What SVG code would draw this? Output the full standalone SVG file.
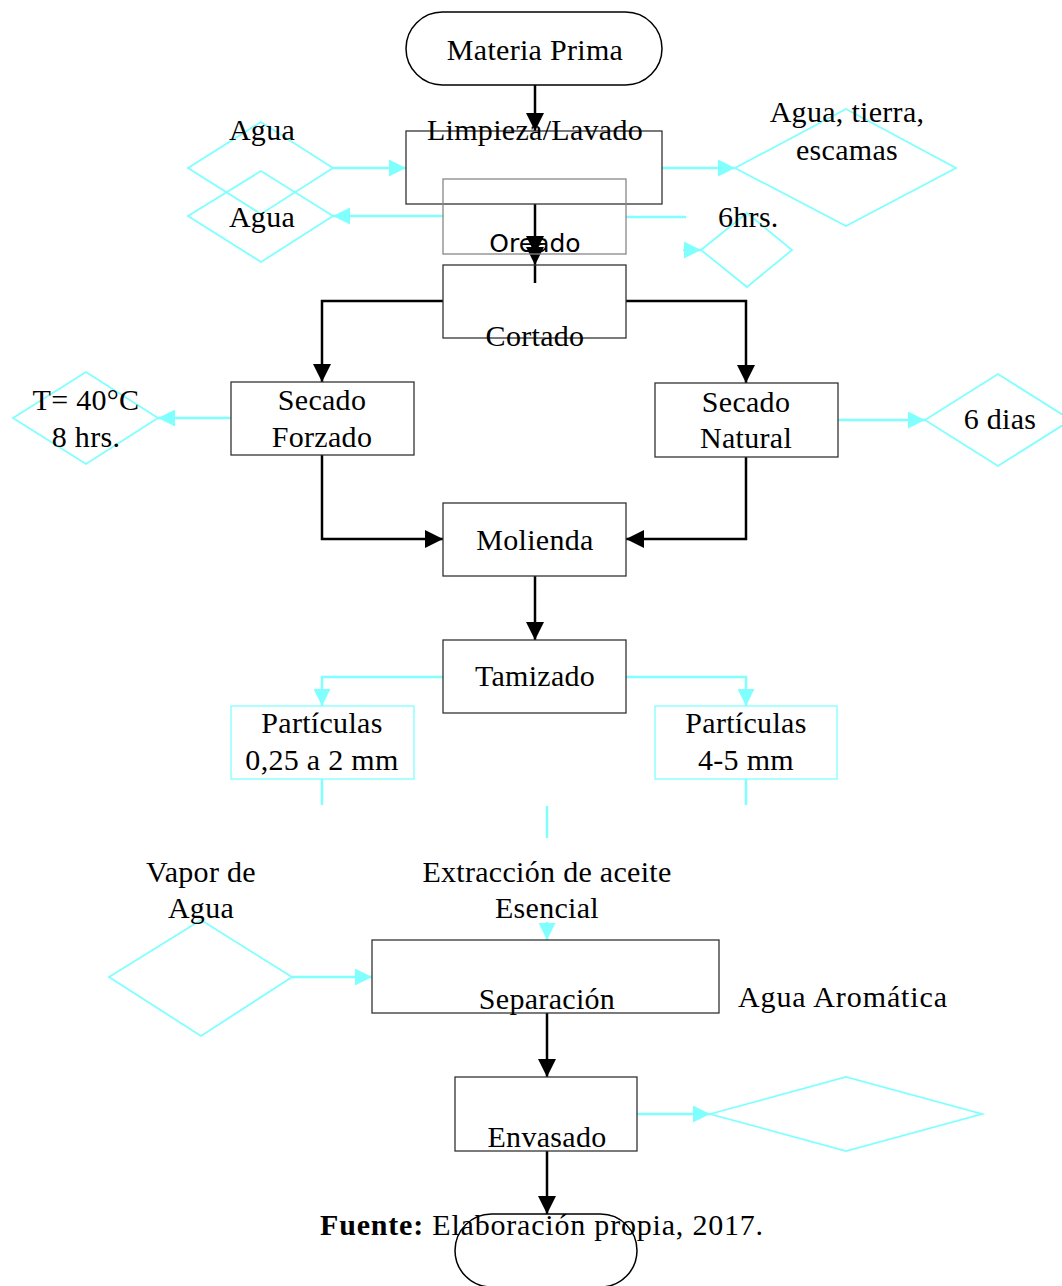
<svg xmlns="http://www.w3.org/2000/svg" width="1062" height="1286" viewBox="0 0 1062 1286">
<defs>
<marker id="ab" viewBox="0 0 10 10" refX="10" refY="5" markerWidth="18" markerHeight="18" markerUnits="userSpaceOnUse" orient="auto"><path d="M0,0 L10,5 L0,10 z" fill="#000"/></marker>
<marker id="ac" viewBox="0 0 10 10" refX="10" refY="5" markerWidth="18" markerHeight="17" markerUnits="userSpaceOnUse" orient="auto"><path d="M0,0 L10,5 L0,10 z" fill="#80ffff"/></marker>
</defs>
<style>
text{font-family:"Liberation Serif","Times New Roman",serif;font-size:30px;fill:#000;text-anchor:middle;letter-spacing:0.3px}
.box{fill:none;stroke:#333;stroke-width:1.3}
.boxl{fill:none;stroke:#888;stroke-width:1.3}
.cbox{fill:none;stroke:#80ffff;stroke-width:1.3}
.dia{fill:none;stroke:#80ffff;stroke-width:1.8}
.bk{fill:none;stroke:#000;stroke-width:2.5;marker-end:url(#ab)}
.bkn{fill:none;stroke:#000;stroke-width:2.5}
.cy{fill:none;stroke:#80ffff;stroke-width:2.5;marker-end:url(#ac)}
.cyn{fill:none;stroke:#80ffff;stroke-width:2.5}
</style>
<rect width="1062" height="1286" fill="#fff"/>

<g id="connectors">
<path class="bk" d="M535,85 V131"/>
<path class="bk" d="M535,204 V254"/>
<path class="bk" d="M535,254 V265"/>
<path class="bkn" d="M535,265 V283"/>
<path class="bk" d="M443,301 H322 V382"/>
<path class="bk" d="M626,301 H746 V383"/>
<path class="bk" d="M322,455 V539 H443"/>
<path class="bk" d="M746,457 V539 H626"/>
<path class="bk" d="M535,576 V640"/>
<path class="bk" d="M547,1013 V1077"/>
<path class="bk" d="M547,1151 V1214"/>
<path class="cy" d="M333,168 H406"/>
<path class="cy" d="M443,216 H333"/>
<path class="cy" d="M662,168 H735"/>
<path class="cyn" d="M626,217 H686"/>
<path class="cy" d="M683,250 H701"/>
<path class="cy" d="M231,418 H158"/>
<path class="cy" d="M838,420 H925"/>
<path class="cy" d="M443,677 H322 V706"/>
<path class="cy" d="M626,677 H746 V706"/>
<path class="cyn" d="M322,779 V805"/>
<path class="cyn" d="M746,779 V805"/>
<path class="cyn" d="M547,806 V838"/>
<path class="cy" d="M547,922 V940"/>
<path class="cy" d="M292,977 H372"/>
<path class="cy" d="M637,1114 H710"/>
</g>

<g id="materia-prima"><rect x="406" y="12" width="256" height="73" rx="36.5" fill="none" stroke="#000" stroke-width="1.5"/><text x="535" y="60">Materia Prima</text></g>
<g id="limpieza"><rect class="box" x="406" y="131" width="256" height="73"/><text x="535" y="140">Limpieza/Lavado</text></g>
<g id="agua-in"><polygon class="dia" points="188,168 261,122 333,168 261,214"/><text x="262" y="140">Agua</text></g>
<g id="agua-out"><polygon class="dia" points="188,216 261,171 333,216 261,262"/><text x="262" y="227">Agua</text></g>
<g id="residuos"><polygon class="dia" points="735,168 846,109 956,168 846,226"/><text x="847" y="122">Agua, tierra,</text><text x="847" y="160">escamas</text></g>
<g id="oreado"><rect class="boxl" x="443" y="179" width="183" height="75"/><text x="535" y="252" style="font-family:'DejaVu Sans',sans-serif;font-size:25px;letter-spacing:0">Oreado</text></g>
<g id="seis-hrs"><polygon class="dia" points="701,250 747,213 792,250 747,287"/><text x="718" y="227" style="text-anchor:start">6hrs.</text></g>
<g id="cortado"><rect class="box" x="443" y="265" width="183" height="73"/><text x="535" y="346">Cortado</text></g>
<g id="secado-forzado"><rect class="box" x="231" y="382" width="183" height="73"/><text x="322" y="410">Secado</text><text x="322" y="447">Forzado</text></g>
<g id="temp"><polygon class="dia" points="13,418 86,372 158,418 86,464"/><text x="86" y="410">T= 40°C</text><text x="86" y="447">8 hrs.</text></g>
<g id="secado-natural"><rect class="box" x="655" y="383" width="183" height="74"/><text x="746" y="412">Secado</text><text x="746" y="448">Natural</text></g>
<g id="seis-dias"><polygon class="dia" points="925,420 998,374 1071,420 998,466"/><text x="1000" y="429">6 dias</text></g>
<g id="molienda"><rect class="box" x="443" y="503" width="183" height="73"/><text x="535" y="550">Molienda</text></g>
<g id="tamizado"><rect class="box" x="443" y="640" width="183" height="73"/><text x="535" y="686">Tamizado</text></g>
<g id="particulas-fina"><rect class="cbox" x="231" y="706" width="183" height="73"/><text x="322" y="733">Partículas</text><text x="322" y="770">0,25 a 2 mm</text></g>
<g id="particulas-gruesa"><rect class="cbox" x="655" y="706" width="182" height="73"/><text x="746" y="733">Partículas</text><text x="746" y="770">4-5 mm</text></g>
<g id="extraccion"><text x="547" y="882">Extracción de aceite</text><text x="547" y="918">Esencial</text></g>
<g id="vapor"><polygon class="dia" points="109,977 201,920 292,977 201,1036"/><text x="201" y="882">Vapor de</text><text x="201" y="918">Agua</text></g>
<g id="separacion"><rect class="box" x="372" y="940" width="347" height="73"/><text x="547" y="1009">Separación</text></g>
<g id="agua-aromatica"><text x="843" y="1007" style="letter-spacing:0.9px">Agua Aromática</text></g>
<g id="envasado"><rect class="box" x="455" y="1077" width="182" height="74"/><text x="547" y="1147">Envasado</text></g>
<g id="envasado-out"><polygon class="dia" points="710,1114 846,1077 982,1114 846,1151"/></g>
<g id="fin"><rect x="455" y="1214" width="182" height="73" rx="36.5" fill="none" stroke="#000" stroke-width="1.5"/></g>
<g id="fuente"><text x="542" y="1235" style="letter-spacing:0.8px"><tspan font-weight="bold">Fuente:</tspan> Elaboración propia, 2017.</text></g>
</svg>
